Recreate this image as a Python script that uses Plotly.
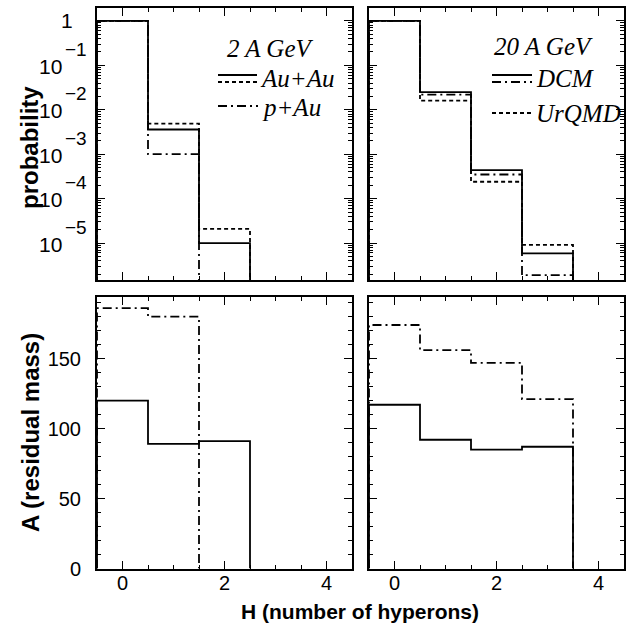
import math
import plotly.graph_objects as go

# ---------------- data ----------------
H_values = [0, 1, 2, 3]
prob_2gev_auau_dcm = [1.0, 3.6e-3, 1.0e-5]
prob_2gev_auau_urqmd = [1.0, 4.9e-3, 2.1e-5]
prob_2gev_pau_dcm = [1.0, 1.0e-3]
prob_20gev_auau_dcm = [1.0, 0.025, 4.4e-4, 5.9e-6]
prob_20gev_pau_dcm = [1.0, 0.022, 3.5e-4, 1.9e-6]
prob_20gev_auau_urqmd = [1.0, 0.016, 2.4e-4, 9.1e-6]

mass_2gev_auau = [120, 89, 91]
mass_2gev_pau = [186, 180]
mass_20gev_auau = [117, 92, 85, 87]
mass_20gev_pau = [174, 156, 147, 121]

log_ticks = [1, 1e-1, 1e-2, 1e-3, 1e-4, 1e-5]
log_exponents = ["", "\u22121", "\u22122", "\u22123", "\u22124", "\u22125"]
lin_ticks = [0, 50, 100, 150]
x_ticks = [0, 2, 4]

W, Hh = 632, 635
BASE_LOG = 1e-9


def step(values, base):
    n = len(values)
    edges = [h - 0.5 for h in H_values[:n]] + [H_values[n - 1] + 0.5]
    xs = [edges[0]] + edges + [edges[-1]]
    ys = [base] + list(values) + [values[-1], base]
    return xs, ys


SOLID = "solid"
DASH = "4px,3px"
DASHDOT = "9px,4px,2px,4px"

fig = go.Figure()


def add(values, dash, xa, ya, base):
    xs, ys = step(values, base)
    fig.add_trace(go.Scatter(x=xs, y=ys, mode="lines", line_shape="hv",
                             line=dict(color="black", width=1.8, dash=dash),
                             xaxis=xa, yaxis=ya, showlegend=False, hoverinfo="skip"))


add(prob_2gev_pau_dcm, DASHDOT, "x", "y", BASE_LOG)
add(prob_2gev_auau_urqmd, DASH, "x", "y", BASE_LOG)
add(prob_2gev_auau_dcm, SOLID, "x", "y", BASE_LOG)

add(prob_20gev_pau_dcm, DASHDOT, "x2", "y2", BASE_LOG)
add(prob_20gev_auau_urqmd, DASH, "x2", "y2", BASE_LOG)
add(prob_20gev_auau_dcm, SOLID, "x2", "y2", BASE_LOG)

add(mass_2gev_pau, DASHDOT, "x3", "y3", 0)
add(mass_2gev_auau, SOLID, "x3", "y3", 0)

add(mass_20gev_pau, DASHDOT, "x4", "y4", 0)
add(mass_20gev_auau, SOLID, "x4", "y4", 0)

xl = [97 / W, 352 / W]
xr = [369 / W, 624 / W]
yt = [1 - 280 / Hh, 1 - 8 / Hh]
yb = [1 - 568.5 / Hh, 1 - 297 / Hh]

tickfont = dict(family="Liberation Sans", size=20, color="black")
common = dict(ticks="inside", ticklen=8, tickwidth=1.3, tickcolor="black", mirror="ticks",
              showline=True, linewidth=2, linecolor="black", showgrid=False,
              zeroline=False, tickfont=tickfont, automargin=False)


def xaxis(domain, anchor, labels):
    return dict(domain=domain, anchor=anchor, range=[-0.5, 4.5], tickvals=x_ticks,
                showticklabels=labels, ticklabelstandoff=-5,
                minor=dict(tickvals=[v / 2 - 0.5 for v in range(11)], ticks="inside",
                           ticklen=4, tickwidth=1, tickcolor="black", showgrid=False),
                **common)


minor_log = [k * 10 ** e for e in range(-6, 1) for k in range(2, 10)]


def ylog(domain, anchor):
    return dict(domain=domain, anchor=anchor, type="log", range=[-5.83, 0.29],
                tickvals=log_ticks, showticklabels=False,
                minor=dict(tickvals=minor_log, ticks="inside", ticklen=4, tickwidth=1,
                           tickcolor="black", showgrid=False),
                **common)


def ylin(domain, anchor, labels):
    return dict(domain=domain, anchor=anchor, range=[0, 194], tickvals=lin_ticks,
                showticklabels=labels, ticklabelstandoff=10,
                minor=dict(dtick=10, ticks="inside", ticklen=4, tickwidth=1,
                           tickcolor="black", showgrid=False),
                **common)


fig.update_layout(
    width=W, height=Hh, margin=dict(l=0, r=0, t=0, b=0),
    paper_bgcolor="white", plot_bgcolor="white",
    xaxis=xaxis(xl, "y", False), yaxis=ylog(yt, "x"),
    xaxis2=xaxis(xr, "y2", False), yaxis2=ylog(yt, "x2"),
    xaxis3=xaxis(xl, "y3", True), yaxis3=ylin(yb, "x3", True),
    xaxis4=xaxis(xr, "y4", True), yaxis4=ylin(yb, "x4", False),
)


def px(x):
    return x / W


def py(y):
    return 1 - y / Hh


# log-axis tick labels: "10" with a large raised exponent, placed on the axis scale
for v, e in zip(log_ticks, log_exponents):
    yv = math.log10(v)
    if e == "":
        fig.add_annotation(x=px(75), y=yv, xref="paper", yref="y", text="1",
                           showarrow=False, xanchor="right", yanchor="middle",
                           font=dict(family="Liberation Sans", size=21, color="black"))
    else:
        fig.add_annotation(x=px(64), y=yv, xref="paper", yref="y", text="10",
                           showarrow=False, xanchor="right", yanchor="middle", yshift=-1,
                           font=dict(family="Liberation Sans", size=21, color="black"))
        fig.add_annotation(x=px(63), y=yv, xref="paper", yref="y", text=e,
                           showarrow=False, xanchor="left", yanchor="middle", yshift=16,
                           font=dict(family="Liberation Sans", size=19, color="black"))

serif = dict(family="Liberation Serif", size=25, color="black", style="italic")
annots = [
    ("2 A GeV", 225, 48),
    ("Au+Au", 258, 78),
    ("p+Au", 260, 107),
    ("20 A GeV", 492, 47),
    ("DCM", 534, 78),
    ("UrQMD", 534, 113),
]
for text, x, y in annots:
    fig.add_annotation(x=px(x), y=py(y), xref="paper", yref="paper", text=text,
                       showarrow=False, xanchor="left", yanchor="middle", font=serif)

legend_lines = [
    (218, 257, 75, SOLID), (218, 257, 82, DASH), (218, 258, 106, DASHDOT),
    (492, 532, 75, SOLID), (492, 532, 82, DASHDOT), (492, 531, 113, DASH),
]
for x0, x1, y, d in legend_lines:
    fig.add_shape(type="line", xref="paper", yref="paper", x0=px(x0), x1=px(x1),
                  y0=py(y), y1=py(y), line=dict(color="black", width=1.8, dash=d))

titles = [
    ("<b>probability</b>", 30, 148, -90, 24),
    ("<b>A (residual mass)</b>", 30, 433, -90, 24),
    ("<b>H (number of hyperons)</b>", 360, 611, 0, 21),
]
for text, x, y, ang, size in titles:
    fig.add_annotation(x=px(x), y=py(y), xref="paper", yref="paper", text=text,
                       textangle=ang, showarrow=False, xanchor="center", yanchor="middle",
                       font=dict(family="Liberation Sans", size=size, color="black"))

fig.write_html("out.html", config={"displayModeBar": False},
               post_script="document.body.style.margin='0px';document.body.style.overflow='hidden';")
